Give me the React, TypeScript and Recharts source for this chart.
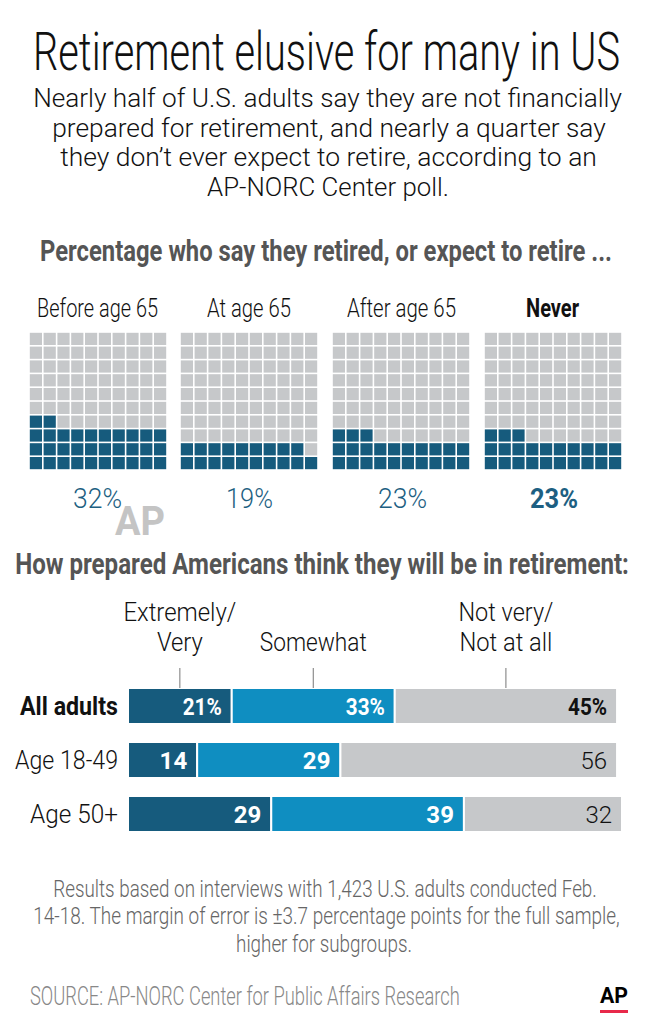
import React from 'react';
import {
  BarChart, Bar, XAxis, YAxis, LabelList,
  ScatterChart, Scatter,
} from 'recharts';

const FONT = 'Roboto, "DejaVu Sans Condensed", sans-serif';
const DARK = '#165b7d';
const MID = '#0f8ec1';
const GRAY = '#c6c8ca';

// waffle panels
const waffleLabels = ['Before age 65', 'At age 65', 'After age 65', 'Never'];
const waffleValues = [32, 19, 23, 23];
const waffleLeft = [29, 180, 332, 484];
const waffleLabelSpan = [[37, 158], [207, 291], [347, 456], [526, 579]];
const wafflePctSpan = [[73, 122], [226, 273], [378, 427], [530, 578]];

// prepared for retirement
const groups = ['All adults', 'Age 18-49', 'Age 50+'];
const groupLabelWidth = [98, 103, 88];
const veryValues = [21, 14, 29];
const somewhatValues = [33, 29, 39];
const notValues = [45, 56, 32];
const seriesNames = [['Extremely/', 'Very'], ['Somewhat'], ['Not very/', 'Not at all']];
const seriesNameWidth = [[113, 46], [107], [95, 93]];

const barData = groups.map((name, i) => ({
  name,
  very: veryValues[i],
  somewhat: somewhatValues[i],
  not: notValues[i],
}));

const CELL = 13.8;

let ctx: CanvasRenderingContext2D | null = null;
const measure = (s: string, size: number, weight: number) => {
  if (!ctx) ctx = document.createElement('canvas').getContext('2d');
  if (!ctx) return 0;
  ctx.font = `${weight} ${size}px ${FONT}`;
  return ctx.measureText(s).width;
};

type TProps = {
  x: number; y: number; w?: number; size: number; weight?: number;
  fill?: string; anchor?: 'start' | 'middle' | 'end'; children: string | number;
};

// text squeezed horizontally to the width it has in the reference
const T = ({ x, y, w, size, weight = 300, fill = '#111', anchor = 'middle', children }: TProps) => {
  const str = String(children);
  const nat = w ? measure(str, size, weight) : 0;
  const sx = w && nat > 0 ? w / nat : 1;
  return (
    <text transform={`translate(${x} ${y}) scale(${sx} 1)`} x={0} y={0} fontSize={size}
      fontWeight={weight} fill={fill} textAnchor={anchor} fontFamily={FONT}>
      {str}
    </text>
  );
};

const makeCells = (value: number) => {
  const cells = [];
  for (let i = 0; i < 100; i++) {
    const row = Math.floor(i / 10);
    const col = i % 10;
    cells.push({ x: col + 0.5, y: row + 0.5, filled: i < value });
  }
  return cells;
};

const Square = (props: any) => {
  const { cx, cy, payload } = props;
  const s = CELL - 1.6;
  return <rect x={cx - s / 2} y={cy - s / 2} width={s} height={s} fill={payload.filled ? DARK : GRAY} />;
};

const Waffle = ({ value }: { value: number }) => (
  <ScatterChart width={CELL * 10} height={CELL * 10} margin={{ top: 0, right: 0, bottom: 0, left: 0 }}>
    <XAxis type="number" dataKey="x" domain={[0, 10]} hide />
    <YAxis type="number" dataKey="y" domain={[0, 10]} hide />
    <Scatter data={makeCells(value)} shape={<Square />} isAnimationActive={false} />
  </ScatterChart>
);

const GroupTick = (props: any) => {
  const { y, payload, index } = props;
  const bold = index === 0;
  return (
    <T x={118} y={y + 9} w={groupLabelWidth[index]} size={25} weight={bold ? 700 : 300} anchor="end">
      {payload.value}
    </T>
  );
};

const makeLabel = (seriesIdx: number) => (props: any) => {
  const { x, y, width, height, value, index } = props;
  const onGray = seriesIdx === 2;
  const first = index === 0;
  const bold = !onGray || first;
  const fill = onGray ? '#111' : '#fff';
  const cx = x + width / 2;
  const names = seriesNames[seriesIdx];
  return (
    <g>
      <T x={x + width - 10} y={y + height / 2 + 9} w={first ? 39 : undefined} size={24}
        weight={bold ? 700 : 300} fill={fill} anchor="end">
        {first ? `${value}%` : value}
      </T>
      {first && (
        <g>
          <line x1={cx} x2={cx} y1={y - 20} y2={y} stroke="#777" strokeWidth={1} />
          {names.map((t, k) => (
            <T key={t} x={cx} y={y - 37 - (names.length - 1 - k) * 30} w={seriesNameWidth[seriesIdx][k]} size={25}>
              {t}
            </T>
          ))}
        </g>
      )}
    </g>
  );
};

export default function App() {
  return (
    <div style={{ position: 'absolute', left: 0, top: 0, width: 649, height: 1024, background: '#fff', overflow: 'hidden' }}>
      <svg width={649} height={1024} style={{ position: 'absolute', left: 0, top: 0 }}>
        <T x={326.5} y={70} w={587} size={53}>Retirement elusive for many in US</T>
        <T x={327.5} y={107} w={589} size={25}>Nearly half of U.S. adults say they are not financially</T>
        <T x={329} y={137} w={554} size={25}>prepared for retirement, and nearly a quarter say</T>
        <T x={328.5} y={166} w={537} size={25}>they don’t ever expect to retire, according to an</T>
        <T x={328} y={196} w={242} size={25}>AP-NORC Center poll.</T>
        <T x={326} y={261} w={572} size={30} weight={700} fill="#555">Percentage who say they retired, or expect to retire ...</T>

        {waffleLabels.map((t, i) => (
          <T key={t} x={(waffleLabelSpan[i][0] + waffleLabelSpan[i][1]) / 2} y={317}
            w={waffleLabelSpan[i][1] - waffleLabelSpan[i][0]} size={26} weight={i === 3 ? 700 : 300}>
            {t}
          </T>
        ))}
        {waffleValues.map((v, i) => (
          <T key={i} x={(wafflePctSpan[i][0] + wafflePctSpan[i][1]) / 2} y={508}
            w={wafflePctSpan[i][1] - wafflePctSpan[i][0]} size={28} weight={i === 3 ? 700 : 300} fill="#1d5f82">
            {`${v}%`}
          </T>
        ))}

        <T x={140} y={535} w={50} size={40} weight={700} fill="#c4c4c4">AP</T>

        <T x={322} y={574} w={614} size={30} weight={700} fill="#555">How prepared Americans think they will be in retirement:</T>

        <T x={325} y={897} w={544} size={24} fill="#666">Results based on interviews with 1,423 U.S. adults conducted Feb.</T>
        <T x={326.5} y={924} w={587} size={24} fill="#666">14-18. The margin of error is ±3.7 percentage points for the full sample,</T>
        <T x={324} y={952} w={176} size={24} fill="#666">higher for subgroups.</T>
        <T x={30} y={1005} w={430} size={25} fill="#888" anchor="start">SOURCE: AP-NORC Center for Public Affairs Research</T>
        <T x={600} y={1003} w={28} size={22} weight={700} fill="#000" anchor="start">AP</T>
        <rect x={600} y={1010} width={28} height={3} fill="#e8294a" />
      </svg>

      {waffleValues.map((v, i) => (
        <div key={waffleLabels[i]} style={{ position: 'absolute', left: waffleLeft[i], top: 332 }}>
          <Waffle value={v} />
        </div>
      ))}

      <div style={{ position: 'absolute', left: 0, top: 590 }}>
        <BarChart width={649} height={260} data={barData} layout="vertical"
          margin={{ top: 89, right: 27, bottom: 9, left: 0 }} barSize={36}>
          <XAxis type="number" domain={[0, 100]} hide />
          <YAxis type="category" dataKey="name" width={128} axisLine={false} tickLine={false} tick={<GroupTick />} />
          <Bar dataKey="very" stackId="a" fill={DARK} stroke="#fff" strokeWidth={2} isAnimationActive={false}>
            <LabelList dataKey="very" content={makeLabel(0)} />
          </Bar>
          <Bar dataKey="somewhat" stackId="a" fill={MID} stroke="#fff" strokeWidth={2} isAnimationActive={false}>
            <LabelList dataKey="somewhat" content={makeLabel(1)} />
          </Bar>
          <Bar dataKey="not" stackId="a" fill={GRAY} stroke="#fff" strokeWidth={2} isAnimationActive={false}>
            <LabelList dataKey="not" content={makeLabel(2)} />
          </Bar>
        </BarChart>
      </div>
    </div>
  );
}
